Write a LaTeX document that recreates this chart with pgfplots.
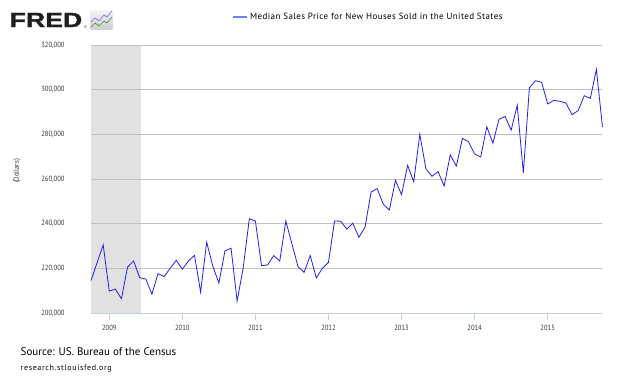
\documentclass[border=0pt]{standalone}
\usepackage{pgfplots}
\pgfplotsset{compat=1.18}
\usepackage{fontspec}
\setmainfont{PT Sans}
\newfontfamily\tickfont{PT Sans}[FakeStretch=0.88]
\newfontfamily\legfont{PT Sans}[LetterSpace=4.5]
\newfontfamily\resfont{PT Sans}[LetterSpace=8]
\newfontfamily\logofont{Liberation Sans}[UprightFont={* Bold}, FakeStretch=1.3, FakeBold=1.5]
\newfontfamily\regfont{Liberation Sans}
\definecolor{serie}{HTML}{2020F0}
\definecolor{gridc}{HTML}{C0C0C0}
\definecolor{axisc}{HTML}{C0D0E0}
\definecolor{recess}{HTML}{E1E1E1}
\definecolor{txt}{HTML}{333333}
\definecolor{legline}{HTML}{7878FF}
\pgfplotsset{set layers}
\begin{document}
\begin{tikzpicture}[x=1pt,y=1pt]
\path (0,0) rectangle (630,378);
% logo
\node[anchor=west, inner sep=0, font=\logofont\fontsize{20.5}{21}\selectfont, text=black!88] at (9.5,358) {FRED};
\node[anchor=west, inner sep=0, font=\regfont\fontsize{4}{4}\selectfont, text=black!70] at (84,350.5) {®};
\shade[top color=gray!8, bottom color=gray!40, rounded corners=1.5pt] (90,348) rectangle (113,368);
\draw[blue!55, line width=0.7pt] (91,356) -- (95,360) -- (99,357) -- (104,363) -- (107,361) -- (112,367);
\draw[green!45!black!75, line width=0.7pt] (91,351) -- (95,355) -- (99,352) -- (104,357) -- (107,355) -- (112,361);
% y label
\node[rotate=90, font=\tickfont\fontsize{7.5}{8}\selectfont, text=txt] at (17,207) {(Dollars)};
% source
\node[anchor=west, inner sep=0, font=\fontsize{11}{12}\selectfont, text=black] at (20.5,26.5) {Source: US. Bureau of the Census};
\node[anchor=west, inner sep=0, font=\resfont\fontsize{8}{9}\selectfont, text=black] at (20.5,9) {research.stlouisfed.org};
\begin{axis}[
  at={(91pt,65pt)}, anchor=south west,
  scale only axis, width=511.5pt, height=268pt,
  xmin=0, xmax=84, ymin=200000, ymax=320000,
  axis x line=bottom, axis y line=left,
  x axis line style={draw=axisc, line width=0.8pt, -},
  y axis line style={draw=none},
  xtick={3,15,27,39,51,63,75},
  xticklabels={2009,2010,2011,2012,2013,2014,2015},
  ytick={200000,220000,240000,260000,280000,300000,320000},
  ymajorgrids, grid style={gridc, line width=0.6pt},
  xtick style={draw=axisc, line width=0.8pt},
  ytick style={draw=none},
  tick align=outside, major tick length=7pt,
  /pgf/number format/fixed, /pgf/number format/1000 sep={,},
  /pgf/number format/assume math mode=true,
  scaled y ticks=false,
  tick label style={font=\tickfont\fontsize{7.5}{8}\selectfont, text=txt},
  yticklabel style={xshift=-16pt},
  xticklabel style={yshift=-2pt},
  legend style={at={(rel axis cs:0.276,1.104)}, anchor=west, draw=none, fill=none,
    font=\legfont\fontsize{9}{10}\selectfont, inner sep=0pt},
  legend image code/.code={\draw[legline, line width=1.8pt] (0pt,0pt) -- (14pt,0pt);},
  clip=false,
]
\addplot[fill=recess, draw=none, on layer=axis background, forget plot] coordinates {(0,200000) (8.2,200000) (8.2,320000) (0,320000)} -- cycle;
\addplot[serie, line width=0.8pt, mark=none] coordinates {
(0,214500)(1,222500)(2,230500)(3,209800)(4,210700)(5,206400)(6,220500)(7,223300)(8,215800)(9,215200)
(10,208400)(11,217600)(12,216300)(13,220000)(14,223600)(15,219600)(16,223300)(17,225800)(18,209400)(19,231700)
(20,221000)(21,213400)(22,227800)(23,229000)(24,205400)(25,220300)(26,242200)(27,241200)(28,221200)(29,221500)
(30,225700)(31,223300)(32,241200)(33,230900)(34,220800)(35,218200)(36,225700)(37,215700)(38,220000)(39,222700)
(40,241200)(41,241100)(42,237600)(43,240200)(44,233900)(45,238400)(46,254200)(47,255700)(48,248700)(49,246100)
(50,259400)(51,253000)(52,266100)(53,258800)(54,280000)(55,264600)(56,261200)(57,263300)(58,256900)(59,270800)
(60,265800)(61,278200)(62,276700)(63,271200)(64,269900)(65,283400)(66,276000)(67,286700)(68,288000)(69,281900)
(70,293000)(71,262800)(72,300900)(73,304000)(74,303300)(75,293600)(76,295200)(77,294800)(78,294000)(79,288800)
(80,290600)(81,297300)(82,296100)(83,309100)(84,283200)};
\addlegendentry{Median Sales Price for New Houses Sold in the United States}
\end{axis}
\end{tikzpicture}
\end{document}
